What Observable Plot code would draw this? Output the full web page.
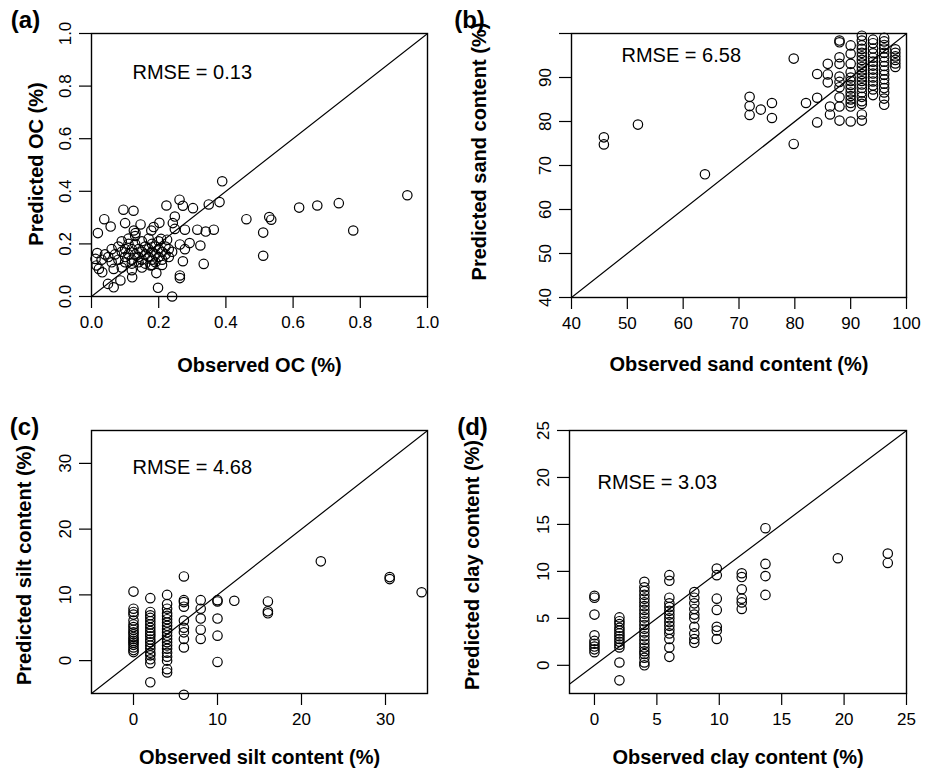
<!DOCTYPE html>
<html><head><meta charset="utf-8">
<script src="https://cdn.jsdelivr.net/npm/d3@7"></script>
<script src="https://cdn.jsdelivr.net/npm/@observablehq/plot@0.6"></script>
<style>
html,body{margin:0;padding:0;background:#fff;}
#chart{position:relative;width:935px;height:772px;overflow:hidden;background:#fff;}
#chart svg{position:absolute;}
</style></head><body><div id="chart"></div>
<script>
// ---------- text ----------
const panelTags = ["(a)", "(b)", "(c)", "(d)"];
const xTitles = ["Observed OC (%)", "Observed sand content (%)", "Observed silt content (%)", "Observed clay content (%)"];
const yTitles = ["Predicted OC (%)", "Predicted sand content (%)", "Predicted silt content (%)", "Predicted clay content (%)"];
const rmseTexts = ["RMSE = 0.13", "RMSE = 6.58", "RMSE = 4.68", "RMSE = 3.03"];

// ---------- ticks ----------
const ocTicks = [0, 0.2, 0.4, 0.6, 0.8, 1.0];
const sandXTicks = [40, 50, 60, 70, 80, 90, 100];
const sandYTicks = [40, 50, 60, 70, 80, 90, 100];
const siltTicks = [0, 10, 20, 30];
const clayTicks = [0, 5, 10, 15, 20, 25];

// ---------- data: [observed, predicted] ----------
const ocPoints = [
[0.389,0.438],[0.262,0.368],[0.272,0.345],[0.223,0.346],[0.302,0.336],[0.349,0.350],[0.381,0.359],
[0.095,0.330],[0.125,0.326],[0.038,0.294],[0.057,0.266],[0.100,0.279],[0.146,0.274],[0.202,0.280],
[0.248,0.304],[0.242,0.279],[0.248,0.257],[0.278,0.254],[0.315,0.254],[0.340,0.247],[0.364,0.254],
[0.019,0.241],[0.126,0.251],[0.131,0.241],[0.185,0.264],[0.178,0.251],[0.461,0.294],[0.529,0.302],
[0.535,0.292],[0.618,0.338],[0.672,0.346],[0.736,0.355],[0.779,0.251],[0.940,0.385],[0.511,0.243],
[0.511,0.155],[0.207,0.219],[0.225,0.216],[0.292,0.203],[0.263,0.198],[0.324,0.194],[0.278,0.180],
[0.272,0.134],[0.334,0.124],[0.263,0.080],[0.263,0.070],[0.198,0.033],[0.240,0.000],[0.017,0.165],
[0.012,0.143],[0.015,0.118],[0.022,0.105],[0.032,0.092],[0.049,0.048],[0.066,0.035],[0.086,0.061],
[0.121,0.073],[0.066,0.105],[0.193,0.089],[0.176,0.118],
[0.07,0.16],[0.08,0.19],[0.08,0.14],[0.09,0.17],[0.09,0.21],[0.10,0.15],[0.10,0.18],[0.10,0.13],
[0.11,0.20],[0.11,0.16],[0.11,0.22],[0.12,0.14],[0.12,0.18],[0.12,0.125],[0.13,0.16],[0.13,0.20],
[0.13,0.23],[0.14,0.15],[0.14,0.18],[0.14,0.13],[0.15,0.17],[0.15,0.21],[0.15,0.14],[0.16,0.16],
[0.16,0.19],[0.16,0.125],[0.17,0.15],[0.17,0.18],[0.17,0.22],[0.18,0.14],[0.18,0.17],[0.18,0.20],
[0.19,0.16],[0.19,0.13],[0.19,0.19],[0.20,0.15],[0.20,0.18],[0.20,0.21],[0.21,0.14],[0.21,0.17],
[0.22,0.16],[0.22,0.19],[0.23,0.15],[0.23,0.18],[0.24,0.17],[0.05,0.15],[0.06,0.13],[0.06,0.18],
[0.04,0.16],[0.03,0.14],[0.09,0.11],[0.12,0.10],[0.15,0.11],[0.18,0.12],[0.21,0.12]
];

const sandPoints = [
[45.8,76.4],[45.8,74.8],[51.9,79.3],[63.9,68.0],[71.9,85.6],[71.9,83.5],[71.9,81.5],[73.9,82.7],
[75.9,84.2],[75.9,80.8],[79.8,94.3],[79.8,74.9],[82.0,84.2],[84.0,85.4],[84.0,79.8],[85.9,93.1],
[85.9,90.7],[85.9,88.9],[84.0,90.8],[86.3,83.4],[86.3,81.6],
[88,98.4],[88,94.6],[88,93.1],[88,90.2],[88,87.8],[88,85.5],[88,83.4],[88,80.2],[88,98.0],[88,89.0],
[90,97.3],[90,95.4],[90,93.1],[90,91.2],[90,90.0],[90,89.2],[90,88.3],[90,87.5],[90,86.6],[90,85.8],
[90,85.0],[90,84.2],[90,83.4],[90,80.0],
[92,99.5],[92,98.4],[92,97.3],[92,96.5],[92,95.6],[92,94.8],[92,94.0],[92,93.2],[92,92.4],[92,91.6],
[92,90.8],[92,90.0],[92,89.2],[92,88.4],[92,87.6],[92,86.6],[92,85.6],[92,84.6],[92,84.0],[92,81.6],[92,80.2],
[94,98.6],[94,97.8],[94,96.6],[94,95.5],[94,94.5],[94,93.6],[94,92.7],[94,91.8],[94,90.9],[94,90.0],
[94,89.1],[94,88.2],[94,87.3],[94,86.0],
[96,99.0],[96,98.2],[96,97.4],[96,96.6],[96,95.6],[96,94.6],[96,93.6],[96,92.6],[96,91.6],[96,90.6],
[96,89.6],[96,88.6],[96,87.6],[96,86.6],[96,85.2],[96,83.8],
[98,96.4],[98,95.6],[98,94.8],[98,94.0],[98,93.2],[98,92.4]
];

const siltPoints = [
[0,10.5],[0,7.9],[0,7.4],[0,7.0],[0,6.1],[0,5.5],[0,5.1],[0,4.7],[0,4.3],[0,4.0],[0,3.6],[0,3.3],
[0,3.0],[0,2.7],[0,2.4],[0,2.0],[0,1.6],[0,1.3],
[2,9.5],[2,7.4],[2,6.9],[2,6.5],[2,6.0],[2,5.5],[2,5.0],[2,4.5],[2,4.1],[2,3.7],[2,3.2],[2,2.8],
[2,2.3],[2,1.8],[2,1.2],[2,0.8],[2,0.2],[2,-0.4],[2,-3.3],
[4,10.0],[4,8.6],[4,7.9],[4,7.2],[4,6.8],[4,6.3],[4,5.8],[4,5.3],[4,4.8],[4,4.3],[4,3.8],[4,3.3],
[4,2.8],[4,2.3],[4,1.8],[4,1.2],[4,0.6],[4,0.0],[4,-1.3],[4,-1.8],
[6,12.8],[6,9.2],[6,8.9],[6,8.2],[6,6.1],[6,5.0],[6,4.3],[6,3.3],[6,2.0],[6,-5.2],
[8,9.2],[8,7.9],[8,6.4],[8,4.7],[8,3.3],
[10,9.2],[10,9.0],[10,6.4],[10,3.8],[10,-0.2],
[12,9.1],
[16,9.0],[16,7.5],[16,7.2],
[22.3,15.1],[30.5,12.7],[30.5,12.4],[34.3,10.4]
];

const clayPoints = [
[0,7.4],[0,7.2],[0,5.4],[0,3.2],[0,2.6],[0,2.3],[0,2.0],[0,1.7],[0,1.4],
[2,5.1],[2,4.7],[2,4.4],[2,4.0],[2,3.7],[2,3.4],[2,3.1],[2,2.8],[2,2.5],[2,2.2],[2,1.9],[2,0.3],[2,-1.6],
[4,8.9],[4,8.3],[4,7.9],[4,7.5],[4,7.1],[4,6.7],[4,6.3],[4,5.9],[4,5.5],[4,5.1],[4,4.7],[4,4.3],
[4,3.9],[4,3.5],[4,3.1],[4,2.7],[4,2.3],[4,1.9],[4,1.5],[4,1.2],[4,0.8],[4,0.3],[4,0.0],
[6,9.6],[6,9.0],[6,7.2],[6,6.6],[6,6.2],[6,5.8],[6,5.4],[6,5.0],[6,4.6],[6,4.2],[6,3.8],[6,3.4],
[6,2.8],[6,1.9],[6,0.9],
[8,7.8],[8,7.2],[8,6.6],[8,6.0],[8,5.4],[8,5.0],[8,4.1],[8,3.4],[8,2.8],[8,2.4],
[9.8,10.3],[9.8,9.6],[9.8,7.1],[9.8,5.9],[9.8,4.1],[9.8,3.7],[9.8,2.8],
[11.8,9.8],[11.8,9.4],[11.8,8.1],[11.8,7.1],[11.8,6.7],[11.8,6.0],
[13.7,14.6],[13.7,10.8],[13.7,9.5],[13.7,7.5],
[19.5,11.4],[23.5,11.9],[23.5,10.9]
];

// ---------- panel layout ----------
const fmt1 = d3.format(".1f");
const fmtInt = d => String(d);
const panels = [
  {pts: ocPoints, xdom: [0, 1], ydom: [0, 1], xticks: ocTicks, yticks: ocTicks, xfmt: fmt1, yfmt: fmt1,
   left: 0, top: 0, w: 467, h: 386, ml: 91, mr: 40, mt: 33, mb: 90,
   xlabDy: 69, ylabDx: -55, ylabDy: -1, tagDx: -66, tagDy: -13, rDx: 41, rDy: 39},
  {pts: sandPoints, xdom: [40, 100], ydom: [40, 100], xticks: sandXTicks, yticks: sandYTicks, xfmt: fmtInt,
   yfmt: d => (d === 100 ? "" : String(d)),
   left: 467, top: 0, w: 468, h: 386, ml: 104, mr: 29, mt: 33, mb: 89,
   xlabDy: 67, ylabDx: -92, ylabDy: -14, tagDx: -102, tagDy: -13, rDx: 50, rDy: 22},
  {pts: siltPoints, xdom: [-5, 35], ydom: [-5, 35], xticks: siltTicks, yticks: siltTicks, xfmt: fmtInt, yfmt: fmtInt,
   left: 0, top: 386, w: 467, h: 386, ml: 91, mr: 40, mt: 44, mb: 79,
   xlabDy: 64, ylabDx: -67, ylabDy: 3, tagDx: -67, tagDy: -3, rDx: 41, rDy: 37},
  {pts: clayPoints, xdom: [-2, 25], ydom: [-3, 25], xticks: clayTicks, yticks: clayTicks, xfmt: fmtInt, yfmt: fmtInt,
   left: 467, top: 386, w: 468, h: 386, ml: 102, mr: 29, mt: 44, mb: 79,
   xlabDy: 64, ylabDx: -97, ylabDy: 3, tagDx: -97, tagDy: -3, rDx: 28, rDy: 52}
];

const chart = document.getElementById("chart");
panels.forEach((p, i) => {
  const diag = [Math.min(p.xdom[0], p.ydom[0]), Math.max(p.xdom[1], p.ydom[1])];
  const svg = Plot.plot({
    width: p.w, height: p.h,
    marginLeft: p.ml, marginRight: p.mr, marginTop: p.mt, marginBottom: p.mb,
    x: {domain: p.xdom},
    y: {domain: p.ydom},
    style: {fontFamily: "'Liberation Sans', Arial, sans-serif", fontSize: "17px", color: "black", background: "transparent", overflow: "visible"},
    marks: [
      Plot.line(diag, {x: d => d, y: d => d, stroke: "black", strokeWidth: 1.2, clip: "frame"}),
      Plot.dot(p.pts, {x: d => d[0], y: d => d[1], r: 4.7, stroke: "black", strokeWidth: 1.2, fill: "none"}),
      Plot.frame({stroke: "black", strokeWidth: 1.4}),
      Plot.axisX({ticks: p.xticks, tickFormat: p.xfmt, tickSize: 12, tickPadding: 7, fontSize: 17, label: null, strokeWidth: 1.2}),
      Plot.axisY({ticks: p.yticks, tickFormat: p.yfmt, tickSize: 12, tickPadding: 9, tickRotate: -90, fontSize: 17, label: null, strokeWidth: 1.2}),
      Plot.text([xTitles[i]], {text: d => d, frameAnchor: "bottom", dy: p.xlabDy, textAnchor: "middle", lineAnchor: "middle", fontWeight: "bold", fontSize: 20}),
      Plot.text([yTitles[i]], {text: d => d, frameAnchor: "left", dx: p.ylabDx, dy: p.ylabDy, rotate: -90, textAnchor: "middle", lineAnchor: "middle", fontWeight: "bold", fontSize: 20}),
      Plot.text([panelTags[i]], {text: d => d, frameAnchor: "top-left", dx: p.tagDx, dy: p.tagDy, textAnchor: "middle", lineAnchor: "middle", fontWeight: "bold", fontSize: 24}),
      Plot.text([rmseTexts[i]], {text: d => d, frameAnchor: "top-left", dx: p.rDx, dy: p.rDy, textAnchor: "start", lineAnchor: "middle", fontSize: 20})
    ]
  });
  svg.style.left = p.left + "px";
  svg.style.top = p.top + "px";
  chart.appendChild(svg);
});
</script>
</body></html>
